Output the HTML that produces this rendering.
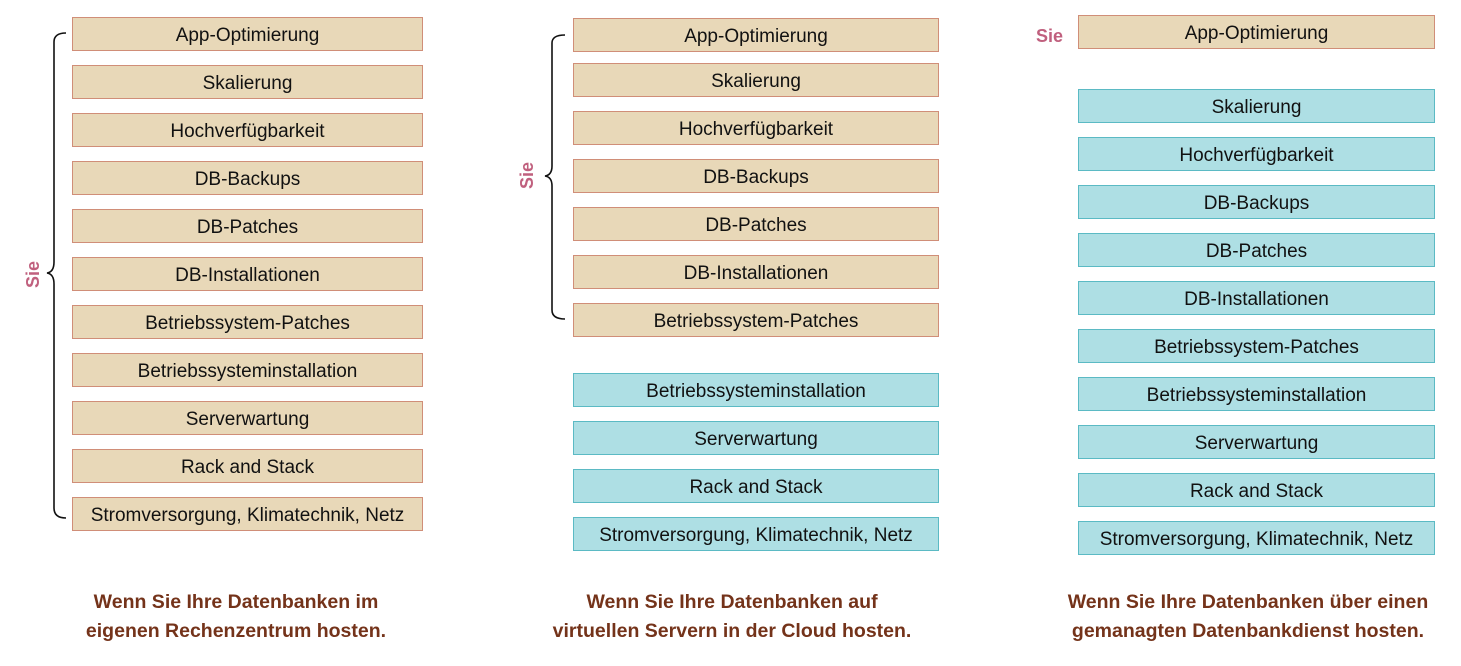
<!DOCTYPE html>
<html><head><meta charset="utf-8"><style>
body{margin:0;width:1461px;height:666px;background:#fff;position:relative;overflow:hidden;font-family:"Liberation Sans",sans-serif}
.b{position:absolute;height:32px;line-height:36px;text-align:center;font-size:19px;color:#111;box-sizing:content-box;overflow:hidden}
.w{background:#E8D8B8;border:1.5px solid #D08E78}
.t{background:#AEDFE4;border:1.5px solid #5BBAC4}
.cap{position:absolute;text-align:center;font-weight:bold;font-size:19.5px;line-height:29px;color:#74331A;width:460px}
.sie{position:absolute;font-weight:bold;font-size:18px;color:#C0607E}
</style></head><body>
<!-- col1 -->
<div class="b w" style="left:72px;top:17px;width:349px">App-Optimierung</div>
<div class="b w" style="left:72px;top:65px;width:349px">Skalierung</div>
<div class="b w" style="left:72px;top:113px;width:349px">Hochverfügbarkeit</div>
<div class="b w" style="left:72px;top:161px;width:349px">DB-Backups</div>
<div class="b w" style="left:72px;top:209px;width:349px">DB-Patches</div>
<div class="b w" style="left:72px;top:257px;width:349px">DB-Installationen</div>
<div class="b w" style="left:72px;top:305px;width:349px">Betriebssystem-Patches</div>
<div class="b w" style="left:72px;top:353px;width:349px">Betriebssysteminstallation</div>
<div class="b w" style="left:72px;top:401px;width:349px">Serverwartung</div>
<div class="b w" style="left:72px;top:449px;width:349px">Rack and Stack</div>
<div class="b w" style="left:72px;top:497px;width:349px">Stromversorgung, Klimatechnik, Netz</div>
<!-- col2 -->
<div class="b w" style="left:573px;top:18px;width:364px">App-Optimierung</div>
<div class="b w" style="left:573px;top:63px;width:364px">Skalierung</div>
<div class="b w" style="left:573px;top:111px;width:364px">Hochverfügbarkeit</div>
<div class="b w" style="left:573px;top:159px;width:364px">DB-Backups</div>
<div class="b w" style="left:573px;top:207px;width:364px">DB-Patches</div>
<div class="b w" style="left:573px;top:255px;width:364px">DB-Installationen</div>
<div class="b w" style="left:573px;top:303px;width:364px">Betriebssystem-Patches</div>
<div class="b t" style="left:573px;top:373px;width:364px">Betriebssysteminstallation</div>
<div class="b t" style="left:573px;top:421px;width:364px">Serverwartung</div>
<div class="b t" style="left:573px;top:469px;width:364px">Rack and Stack</div>
<div class="b t" style="left:573px;top:517px;width:364px">Stromversorgung, Klimatechnik, Netz</div>
<!-- col3 -->
<div class="b w" style="left:1078px;top:15px;width:355px">App-Optimierung</div>
<div class="b t" style="left:1078px;top:89px;width:355px">Skalierung</div>
<div class="b t" style="left:1078px;top:137px;width:355px">Hochverfügbarkeit</div>
<div class="b t" style="left:1078px;top:185px;width:355px">DB-Backups</div>
<div class="b t" style="left:1078px;top:233px;width:355px">DB-Patches</div>
<div class="b t" style="left:1078px;top:281px;width:355px">DB-Installationen</div>
<div class="b t" style="left:1078px;top:329px;width:355px">Betriebssystem-Patches</div>
<div class="b t" style="left:1078px;top:377px;width:355px">Betriebssysteminstallation</div>
<div class="b t" style="left:1078px;top:425px;width:355px">Serverwartung</div>
<div class="b t" style="left:1078px;top:473px;width:355px">Rack and Stack</div>
<div class="b t" style="left:1078px;top:521px;width:355px">Stromversorgung, Klimatechnik, Netz</div>

<svg style="position:absolute;left:0;top:0" width="1461" height="666">
<path d="M66 33 Q54 33 54 42 L54 262 Q54 272 47 273 Q54 274 54 284 L54 508 Q54 518 66 518" fill="none" stroke="#111" stroke-width="1.6"/>
<path d="M565 35 Q552 35 552 43 L552 166 Q552 175 545 176 Q552 177 552 186 L552 310 Q552 319 565 319" fill="none" stroke="#111" stroke-width="1.6"/>
</svg>
<div class="sie" style="left:20px;top:264px;transform:rotate(-90deg)">Sie</div>
<div class="sie" style="left:514px;top:165px;transform:rotate(-90deg)">Sie</div>
<div class="sie" style="left:1036px;top:26px">Sie</div>

<div class="cap" style="left:6px;top:588px">Wenn Sie Ihre Datenbanken im<br>eigenen Rechenzentrum hosten.</div>
<div class="cap" style="left:502px;top:588px">Wenn Sie Ihre Datenbanken auf<br>virtuellen Servern in der Cloud hosten.</div>
<div class="cap" style="left:1018px;top:588px">Wenn Sie Ihre Datenbanken über einen<br>gemanagten Datenbankdienst hosten.</div>
</body></html>
